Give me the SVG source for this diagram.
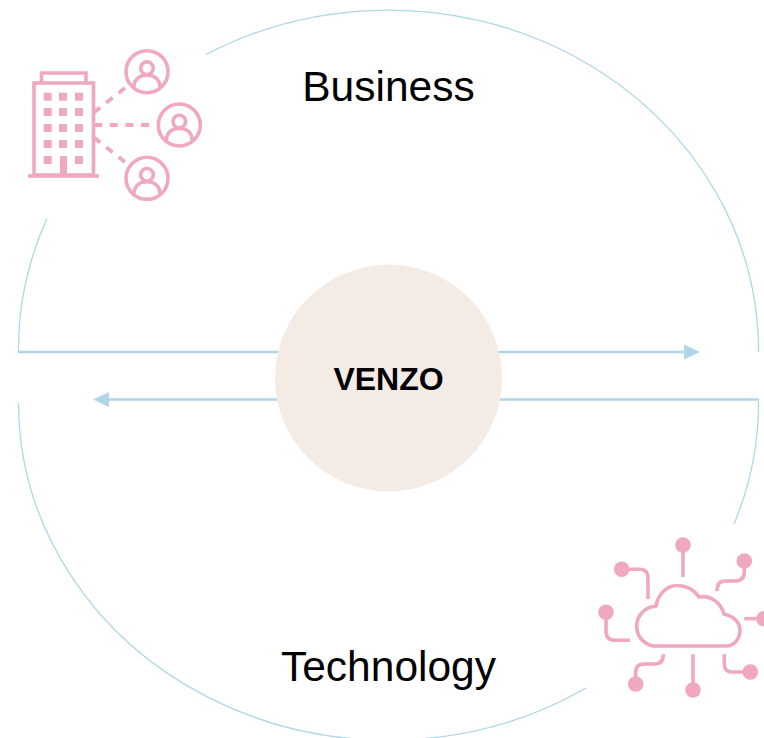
<svg xmlns="http://www.w3.org/2000/svg" width="764" height="738" viewBox="0 0 764 738">
<style>
.ring{fill:none;stroke:#AED6E6;stroke-width:1.3}
.flow{fill:none;stroke:#AED6E6;stroke-width:2.6}
.head{fill:#AED6E6}
.ic{fill:none;stroke:#F0A8C0;stroke-width:3.6}
.dash{fill:none;stroke:#F0A8C0;stroke-width:3.8;stroke-dasharray:8 7.7}
.pf{fill:#F0A8C0}
.t{font-family:"Liberation Sans",Arial,sans-serif;fill:#000;text-anchor:middle}
</style>
<defs>
<g id="user"><circle class="ic" r="21"/><circle class="ic" cx="0" cy="-3.5" r="6.3"/><path class="ic" d="M-13 15C-12.500 7-7 3.500 0 3.500S12.500 7 13 15"/></g>
<g id="win"><rect x="-4" y="-4" width="8" height="8" class="pf"/></g>
</defs>
<rect width="764" height="738" fill="#fff"/>
<g id="connectors">
<path class="ring" d="M206 54.500A370 341 0 0 1 758.500 352"/>
<path class="ring" d="M47 218.500A370 341 0 0 0 18.500 352"/>
<path class="ring" d="M18.500 403A370 338 0 0 0 586 688"/>
<path class="ring" d="M758.500 400A370 338 0 0 1 734 524"/>
<path class="flow" d="M18 352H686"/><path class="head" d="M684 344.500L700 352L684 359.500Z"/>
<path class="flow" d="M759 399.500H107"/><path class="head" d="M109 392L93 399.500L109 407Z"/>
</g>
<g id="venzo"><circle cx="388.500" cy="378" r="113.500" fill="#F4EBE4"/><text class="t" x="388.500" y="390" font-size="32" font-weight="700">VENZO</text></g>
<g id="business"><text class="t" x="388.500" y="101" font-size="42.500">Business</text></g>
<g id="technology"><text class="t" x="388.500" y="681" font-size="42.500">Technology</text></g>
<g id="business-icon">
<rect class="ic" x="34" y="83" width="59.500" height="92"/>
<path class="ic" d="M41.500 82V73H86V82"/>
<path class="ic" d="M28 176H99"/>
<use href="#win" x="47.700" y="96.700"/><use href="#win" x="63" y="96.700"/><use href="#win" x="79" y="96.700"/>
<use href="#win" x="47.700" y="112"/><use href="#win" x="63" y="112"/><use href="#win" x="79" y="112"/>
<use href="#win" x="47.700" y="128"/><use href="#win" x="63" y="128"/><use href="#win" x="79" y="128"/>
<use href="#win" x="47.700" y="144"/><use href="#win" x="63" y="144"/><use href="#win" x="79" y="144"/>
<use href="#win" x="47.700" y="160"/><use href="#win" x="79" y="160"/>
<rect x="60" y="156" width="7" height="20" class="pf"/>
<path class="dash" d="M94 112.500L125 88"/>
<path class="dash" d="M94 125H153"/>
<path class="dash" d="M94 137.500L125 162"/>
<use href="#user" x="147" y="71.700"/><use href="#user" x="179.300" y="125"/><use href="#user" x="147" y="178.300"/>
</g>
<g id="technology-icon">
<path class="ic" d="M726 646H653.500A20 20 0 0 1 653.500 606.500L656 606C658 594 667 585.500 677 585.500C686 585.500 694 590 699 597C711 595 721 603 724 614C733 616 740 622 740 630C740 639 734 646 726 646Z"/>
<path class="ic" d="M683 545V577"/><circle class="pf" cx="683" cy="545" r="7.800"/>
<path class="ic" d="M744.300 561V572Q744.300 581 735 581H725Q717 581 717 591"/><circle class="pf" cx="744.300" cy="561" r="7.800"/>
<path class="ic" d="M621.700 569.300H640Q648 569.300 648 578V599"/><circle class="pf" cx="621.700" cy="569.300" r="7.800"/>
<path class="ic" d="M606 612.300V631Q606 640.300 615 640.300H630"/><circle class="pf" cx="606" cy="612.300" r="7.800"/>
<path class="ic" d="M744.300 618.700H764"/><circle class="pf" cx="764" cy="618.700" r="7.800"/>
<path class="ic" d="M750.300 672H732Q724.300 672 724.300 664V654.300"/><circle class="pf" cx="750.300" cy="672" r="7.800"/>
<path class="ic" d="M693 690V654.300"/><circle class="pf" cx="693" cy="690" r="7.800"/>
<path class="ic" d="M635.700 684V672Q635.700 664 644 664H655Q663.300 664 663.300 654.300"/><circle class="pf" cx="635.700" cy="684" r="7.800"/>
</g>
</svg>
